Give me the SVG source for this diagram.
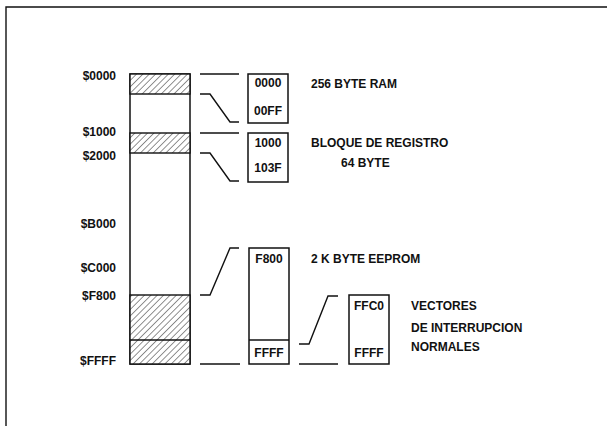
<svg xmlns="http://www.w3.org/2000/svg" width="607" height="426" viewBox="0 0 607 426">
<style>
  .ln { fill: none; stroke: #111; stroke-width: 1.4; }
  .box { fill: #fff; stroke: #111; stroke-width: 1.5; }
  .hatch { fill: url(#hatch); stroke: #111; stroke-width: 1.4; }
  text { font-family: "Liberation Sans", Arial, sans-serif; font-weight: bold; font-size: 12px; fill: #111; }
  .r { text-anchor: end; }
  .m { text-anchor: middle; }
</style>
<defs>
  <pattern id="hatch" patternUnits="userSpaceOnUse" width="4.5" height="4.5" patternTransform="rotate(45)">
    <rect width="4.5" height="4.5" fill="#fff"/>
    <line x1="0" y1="0" x2="0" y2="4.5" stroke="#222" stroke-width="1"/>
  </pattern>
</defs>
<rect width="607" height="426" fill="#fff"/>
<g id="frame">
  <path class="ln" d="M6 426 V7 H607" stroke-width="1.6"/>
</g>
<g id="memory-map">
  <rect class="box" x="130" y="74" width="60" height="290"/>
  <rect class="hatch" x="130" y="74" width="60" height="20"/>
  <rect class="hatch" x="130" y="133" width="60" height="20"/>
  <rect class="hatch" x="130" y="295" width="60" height="69"/>
  <line class="ln" x1="130" y1="340" x2="190" y2="340"/>
</g>
<g id="addresses">
  <text class="r" x="116" y="80">$0000</text>
  <text class="r" x="116" y="136">$1000</text>
  <text class="r" x="116" y="160">$2000</text>
  <text class="r" x="116" y="228">$B000</text>
  <text class="r" x="116" y="272">$C000</text>
  <text class="r" x="116" y="300">$F800</text>
  <text class="r" x="116" y="365">$FFFF</text>
</g>
<g id="connectors">
  <path class="ln" d="M200 74 H239"/>
  <path class="ln" d="M200 94 H210 L230 122 H239"/>
  <path class="ln" d="M200 133 H239"/>
  <path class="ln" d="M200 153 H210 L230 181 H239"/>
  <path class="ln" d="M200 295 H210 L230 248 H239"/>
  <path class="ln" d="M200 364 H240"/>
  <path class="ln" d="M299 344 H309 L328 296 H338"/>
  <path class="ln" d="M299 364 H338"/>
</g>
<g id="ram">
  <rect class="box" x="248" y="74" width="40" height="49"/>
  <text class="m" x="268" y="87">0000</text>
  <text class="m" x="268" y="115">00FF</text>
  <text x="311" y="88">256 BYTE RAM</text>
</g>
<g id="registers">
  <rect class="box" x="248" y="133" width="40" height="49"/>
  <text class="m" x="268" y="147">1000</text>
  <text class="m" x="268" y="172">103F</text>
  <text x="311" y="147">BLOQUE DE REGISTRO</text>
  <text x="341" y="167">64 BYTE</text>
</g>
<g id="eeprom">
  <rect class="box" x="249" y="248" width="40" height="116"/>
  <line class="ln" x1="249" y1="340" x2="289" y2="340"/>
  <text class="m" x="269" y="262.5">F800</text>
  <text class="m" x="269" y="356.5">FFFF</text>
  <text x="311" y="263">2 K BYTE EEPROM</text>
</g>
<g id="vectors">
  <rect class="box" x="349" y="295" width="40" height="69"/>
  <text class="m" x="369" y="310">FFC0</text>
  <text class="m" x="369" y="357">FFFF</text>
  <text x="411" y="310">VECTORES</text>
  <text x="411" y="331.5">DE INTERRUPCION</text>
  <text x="411" y="351">NORMALES</text>
</g>
</svg>
